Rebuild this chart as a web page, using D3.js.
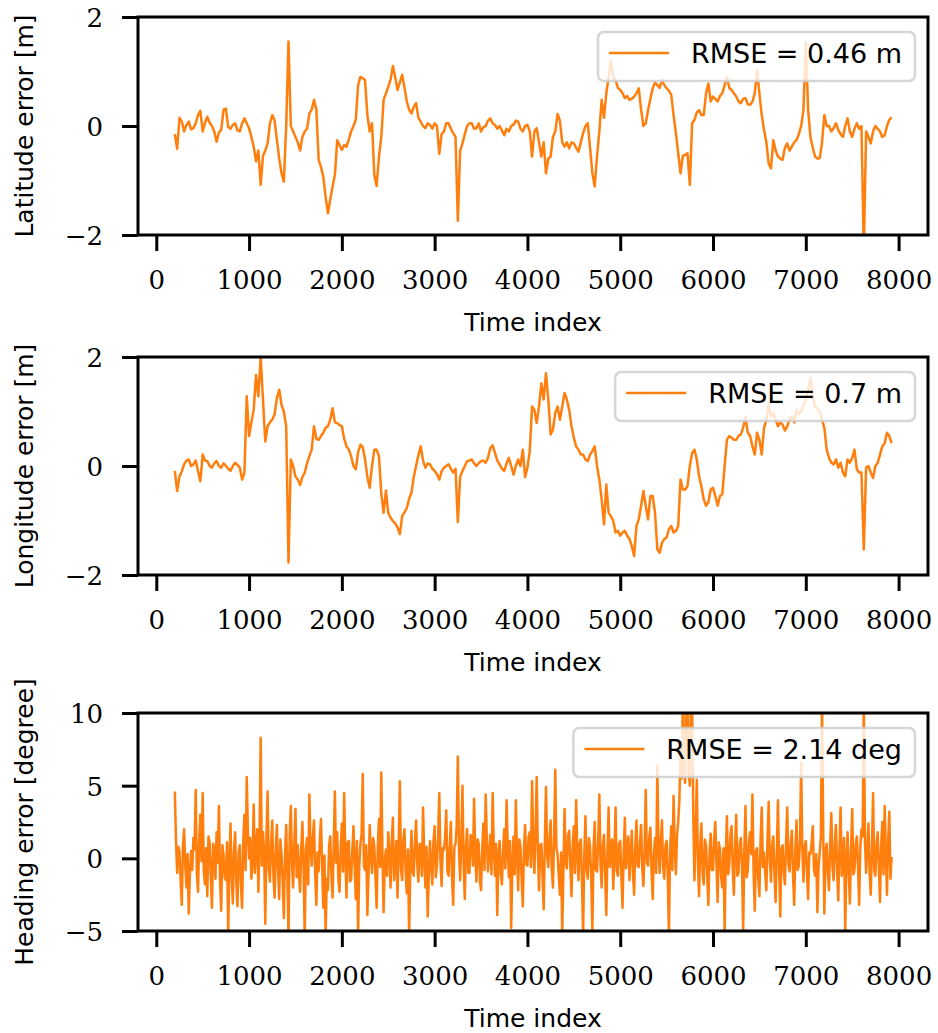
<!DOCTYPE html>
<html>
<head>
<meta charset="utf-8">
<script src="https://cdn.jsdelivr.net/npm/d3@7"></script>
<style>
  body { margin: 0; background: #fff; }
  .tick text { font-family: "DejaVu Serif", serif; font-size: 26px; fill: #000; }
  .lab { font-family: "DejaVu Sans", sans-serif; font-size: 25px; fill: #000; }
  .leg { font-family: "DejaVu Sans", sans-serif; font-size: 27px; fill: #000; }
</style>
</head>
<body>
<svg id="fig" width="938" height="1033"></svg>
<script>
// ---- data ----
// position errors sampled every 25 steps, 200 .. 7925
let posT = d3.range(200, 7926, 25);
let latV = [
  -0.15,-0.42,0.15,0.08,-0.1,0.02,0.08,-0.06,-0.04,0.05,0.2,0.28,-0.1,0.05,0.17,0.06,0,-0.1,-0.29,-0.12,
  -0.07,0.3,0.32,-0.02,-0.05,0.02,0.05,-0.08,-0.1,0.05,0.14,0.05,-0.04,-0.2,-0.38,-0.65,-0.45,-1.08,-0.55,-0.45,
  -0.32,0.05,0.2,0.1,-0.26,-0.6,-0.87,-1.02,0,1.55,0,-0.1,-0.2,-0.3,-0.45,-0.2,-0.1,-0.05,0.23,0.3,
  0.48,0.3,-0.62,-0.75,-0.93,-1.3,-1.6,-1.35,-1.11,-0.9,-0.26,-0.35,-0.44,-0.35,-0.38,-0.25,-0.1,0,0.11,0.75,
  0.9,0.88,0.84,0.2,-0.1,0.05,-0.9,-1.1,-0.56,-0.2,0.48,0.6,0.72,0.85,1.1,0.9,0.66,0.8,0.94,0.7,
  0.45,0.3,0.23,0.35,0.42,0.15,0.08,0,-0.04,0.05,0.02,-0.05,0.05,0,-0.51,-0.15,-0.1,0.05,0.05,-0.05,
  -0.13,-0.2,-1.74,-0.45,-0.32,-0.15,0,0.05,0.05,-0.05,-0.04,0.05,-0.1,-0.02,0,0.1,0.14,0.05,0.02,-0.05,
  0,-0.08,-0.17,-0.05,-0.1,0,0.02,0.1,0.08,-0.05,-0.1,0,0.02,-0.1,-0.56,-0.1,-0.04,-0.3,-0.56,-0.3,
  -0.87,-0.6,-0.56,-0.2,-0.1,0.22,0.1,-0.3,-0.38,-0.3,-0.41,-0.3,-0.32,-0.4,-0.47,-0.3,-0.13,0,0.05,-0.4,
  -0.87,-1.11,-0.56,-0.1,0.48,0.15,0.6,0.9,1.21,0.9,0.84,0.7,0.66,0.6,0.51,0.55,0.48,0.5,0.54,0.6,
  0.69,0.3,0,0.05,0.29,0.5,0.69,0.8,0.75,0.7,0.85,0.75,0.69,0.65,0.57,0.2,-0.13,-0.5,-0.87,-0.55,
  -0.53,-0.5,-1.08,0.05,0.11,0.25,0.29,0.2,0.2,0.6,0.78,0.45,0.54,0.5,0.45,0.55,0.6,0.75,0.9,0.7,
  0.66,0.6,0.54,0.45,0.42,0.5,0.51,0.4,0.39,0.45,0.6,1.03,0.6,0.2,-0.07,-0.3,-0.69,-0.78,-0.26,-0.45,
  -0.56,-0.6,-0.62,-0.4,-0.32,-0.45,-0.38,-0.3,-0.26,-0.15,0,0.3,1.53,0.3,-0.2,-0.4,-0.56,-0.6,-0.59,-0.3,
  0.2,0,0,-0.1,-0.04,0.05,-0.07,-0.15,-0.2,0,0.14,-0.1,-0.2,-0.05,0.05,-0.05,0,-2.3,-0.1,-0.2,
  -0.32,-0.1,0,-0.05,-0.1,-0.2,-0.17,0,0.11,0.16];
let lonV = [
  -0.09,-0.46,-0.19,-0.1,0.03,0.1,0.12,0,0.03,0.1,-0.09,-0.28,0.21,0.1,0.09,0,-0.03,0.05,0.09,0,
  -0.03,0.05,0,-0.05,-0.09,0,0.06,0.02,-0.03,-0.25,-0.12,1.28,0.55,0.8,1.03,1.67,1.28,2.0,1.22,0.45,
  0.73,0.8,0.85,0.95,1.25,1.4,1.12,1.0,0.73,-1.77,0.12,0,-0.19,-0.25,-0.35,-0.2,-0.12,0.05,0.18,0.3,
  0.73,0.5,0.48,0.55,0.61,0.7,0.73,0.85,1.06,0.8,0.79,0.75,0.73,0.5,0.36,0.3,0.18,0,-0.06,0.25,
  0.39,0.35,0.12,-0.2,-0.4,0,0.3,0.3,0.18,-0.5,-0.86,-0.45,-0.86,-0.95,-1.01,-1.05,-1.13,-1.25,-0.92,-0.85,
  -0.77,-0.6,-0.49,-0.2,0,0.2,0.36,0.1,-0.03,0.05,0.03,-0.05,-0.09,-0.15,-0.25,-0.1,-0.03,0,0.03,-0.05,
  -0.12,-0.05,-1.03,-0.2,-0.09,0,0.09,0.1,0.12,0.05,0,0.05,0.09,0.1,0.06,0.15,0.33,0.38,0.24,0.1,
  0.03,-0.05,-0.09,0.05,0.15,0,-0.16,0,0.12,0,0.3,-0.2,-0.03,0.27,1.09,1.03,0.79,1.09,1.52,1.22,
  1.7,1.22,0.58,0.67,0.97,1.09,0.85,1.09,1.34,1.22,1.03,0.73,0.52,0.36,0.3,0.21,0.21,0.12,0.09,0.21,
  0.27,0.36,0,-0.25,-0.61,-1.07,-0.34,-0.86,-0.92,-1.01,-1.22,-1.19,-1.28,-1.22,-1.19,-1.28,-1.34,-1.47,-1.65,-1.1,
  -0.98,-0.73,-0.46,-0.73,-0.98,-0.55,-0.55,-0.86,-1.53,-1.59,-1.41,-1.34,-1.31,-1.16,-1.1,-1.22,-1.19,-1.1,-0.25,-0.43,
  -0.43,-0.37,0,0.24,0.3,0.12,-0.19,-0.37,-0.61,-0.73,-0.67,-0.43,-0.4,-0.55,-0.73,-0.55,-0.52,0,0.48,0.55,
  0.52,0.48,0.48,0.55,0.58,0.7,0.91,0.61,0.55,0.36,0.21,0.61,0.48,0.21,0.7,0.85,1.13,0.91,0.97,0.85,
  0.73,0.8,0.76,0.65,0.73,0.85,0.91,0.8,1.03,0.95,1.0,1.1,1.22,1.4,1.61,1.3,1.09,1.05,1.0,0.85,
  0.7,0.3,0.15,0.06,0.03,0.12,-0.03,0.06,-0.12,-0.19,0.12,0.06,0.15,0.3,-0.06,-0.12,-0.12,-1.53,-0.03,0,
  -0.12,-0.22,0,0.06,0.21,0.36,0.42,0.61,0.55,0.42];

// heading error sampled every 12.5 steps, 200 .. 7925
let headT = d3.range(200, 7925.1, 12.5);
let headV = [
  4.6,1.2,-1.0,0.8,0.5,-1.5,-3.2,0.9,2.0,-0.5,-2.0,0.3,-3.8,-1.0,0.5,-0.8,1.4,0.6,4.7,-1.1,-2.3,1.3,3.0,-0.2,4.5,-0.9,-1.8,0.7,-2.6,1.5,1.1,-1.2,-3.4,1.0,0.6,-1.4,1.8,-0.3,3.6,-1.6,
  -3.6,0.9,0.2,-1.3,-1.5,1.1,-5.2,-0.6,2.4,-1.2,-3.1,0.5,1.8,-1.7,-3.3,0.4,0.9,-1.9,-3.4,1.2,3.0,-0.8,5.6,1.9,0.0,1.4,-1.4,-0.2,3.7,-1.0,0.9,2.0,-2.3,1.1,8.3,-0.5,1.8,0.3,-4.5,1.6,
  4.6,-0.8,-1.6,1.0,2.6,-1.2,-2.7,0.7,2.3,-0.9,-2.8,1.3,0.2,-1.5,-4.1,0.2,2.3,-1.0,-5.3,1.6,3.6,-0.4,-2.0,1.1,3.4,-1.3,0.9,-1.0,-2.3,0.8,2.5,-0.7,-5.4,0.6,1.4,-1.8,4.4,0.9,-0.5,1.4,
  2.6,-1.1,-3.2,0.4,-0.9,1.3,2.7,-0.6,-3.4,0.2,-5.3,-1.4,-2.2,0.9,1.5,-1.2,-2.7,1.0,4.6,-0.3,1.8,-1.5,-2.3,0.7,2.4,-0.9,4.5,0.2,-2.7,1.1,1.2,-1.6,-1.5,0.5,2.2,-0.4,-2.8,1.2,-5.2,-0.6,
  1.0,1.7,5.8,-0.5,-0.8,0.9,-3.9,-1.1,2.3,0.3,-1.0,1.4,0.8,-1.3,-3.4,0.8,2.7,-0.6,5.9,0.4,-3.7,-0.2,0.6,-1.2,1.8,0.5,-2.0,1.0,2.8,-1.5,-0.7,1.2,-2.7,0.9,5.3,-0.8,-1.5,1.3,2.0,-1.0,
  -2.4,0.6,-5.3,-0.7,1.9,-0.9,-1.2,1.1,2.6,-0.4,-1.6,1.0,0.9,-1.2,3.5,0.2,-2.0,0.8,-4.0,-1.1,1.2,-0.5,-1.8,1.2,2.2,-1.3,-0.4,1.5,4.5,-0.2,-1.9,0.7,0.6,1.4,3.3,-0.9,-1.2,0.9,2.5,-1.4,
  -3.2,0.8,1.0,2.2,7.0,0.5,-1.5,1.4,5.0,-0.3,-2.8,0.9,2.0,-1.0,-1.0,1.6,1.5,-0.5,4.1,0.3,-1.6,1.3,1.0,-1.5,-2.2,0.6,2.4,-0.8,4.4,1.2,-0.9,0.4,1.6,-1.1,4.5,0.8,-1.2,1.0,-3.9,0.2,
  1.2,-1.0,-1.8,0.5,2.0,-0.7,4.0,0.9,-1.3,1.2,-4.8,-0.6,1.5,-1.1,4.0,0.3,-2.2,1.3,0.8,-1.4,-3.3,0.6,2.3,-0.4,-0.5,1.5,1.8,-0.6,5.3,1.0,-1.0,2.0,5.6,0.4,-2.2,0.9,1.0,-1.2,-3.5,1.1,
  4.9,0.2,-0.6,1.3,2.6,-0.8,-2.0,1.5,6.1,0.7,0.3,-1.2,-2.5,0.4,-5.1,-0.9,3.4,-0.3,-0.7,1.6,1.9,-0.5,-2.6,0.8,2.2,-1.0,4.0,0.6,-1.5,1.0,1.3,-1.5,-5.2,0.1,2.9,-0.7,-1.4,1.4,0.8,-1.3,
  -5.0,0.6,2.5,-0.8,-0.9,1.2,4.4,-0.4,-2.0,0.9,1.6,-1.1,-3.9,0.5,3.5,-0.6,0.4,1.3,-2.1,0.2,3.5,-0.9,-1.2,1.0,1.2,-1.2,-3.4,0.4,2.8,-0.7,0.5,1.5,-1.5,0.3,1.9,-1.0,-2.5,0.8,2.6,-0.5,
  -0.6,1.1,2.3,-0.7,-1.9,0.6,4.7,-0.3,-0.5,1.4,2.1,-0.9,-2.8,0.3,1.4,-1.0,6.4,0.8,-1.0,1.2,2.6,-0.6,-1.4,0.9,1.2,-1.3,-5.2,0.5,2.2,-0.8,4.3,0.9,-1.1,1.6,2.5,4.0,7.5,5.5,11.0,6.0,
  5.2,11.5,11.0,6.0,5.0,11.2,10.5,3.0,-1.5,1.8,5.4,-0.4,-2.6,0.9,2.4,-1.0,-1.8,1.3,0.9,-1.2,-3.2,0.4,1.7,-0.8,-0.8,1.4,2.5,-0.5,-3.0,1.1,0.6,-1.3,-2.0,0.7,-5.1,0.2,2.9,-1.1,-0.5,1.6,
  2.2,-0.7,-2.5,0.8,3.0,-1.2,-1.0,1.0,1.4,-0.5,-5.0,0.6,3.6,-1.3,-0.8,1.1,1.8,0.3,4.4,-0.9,-3.6,0.5,0.7,-1.4,-2.6,1.2,3.5,-0.6,0.4,-1.0,-2.2,1.3,3.9,-0.2,-1.6,0.9,1.5,-1.1,-3.0,0.4,
  4.0,-0.6,-4.0,0.7,0.9,-1.0,-1.8,1.2,3.5,-0.4,-0.9,1.0,1.9,-1.2,-3.2,0.5,2.6,-0.8,-0.5,1.3,6.6,0.6,-1.6,0.8,1.2,-0.9,-2.8,0.4,0.3,1.0,2.2,-0.7,-1.2,0.3,-3.7,-0.6,0.4,1.5,11.0,2.0,
  -3.8,0.5,1.0,-1.0,-2.2,0.9,3.1,-0.6,-1.5,1.1,2.3,-0.8,-2.9,0.7,3.5,-1.2,0.4,1.4,-5.1,-0.3,1.8,-0.9,-3.1,0.6,3.4,-1.1,-0.8,1.0,1.5,-0.5,-3.2,0.8,2.0,1.5,11.0,1.2,-1.0,0.6,2.4,-0.9,
  -2.5,0.6,4.5,-0.8,-1.2,1.0,1.8,-0.6,-3.0,0.9,2.5,-1.1,3.6,0.4,-2.5,1.2,3.2,-1.4,0.1];

let xTickVals = [0, 1000, 2000, 3000, 4000, 5000, 6000, 7000, 8000];
let yLabels = ['Latitude error [m]', 'Longitude error [m]', 'Heading error [degree]'];
let legendLabels = ['RMSE = 0.46 m', 'RMSE = 0.7 m', 'RMSE = 2.14 deg'];
let yDomains = [[-2, 2], [-2, 2], [-5, 10]];
let yTickVals = [[-2, 0, 2], [-2, 0, 2], [-5, 0, 5, 10]];
let series = [[posT, latV], [posT, lonV], [headT, headV]];

// ---- layout ----
let svg = d3.select('#fig');
let left = 138, right = 928;
let tops = [17, 357, 713];
let plotH = 218;
let lineColor = '#ff7f0e';
let lineW = 2.5;

let xScale = d3.scaleLinear().domain([-197, 8317]).range([left, right]);

series.forEach((s, k) => {
    let top = tops[k], bottom = top + plotH;
    let yScale = d3.scaleLinear().domain(yDomains[k]).range([bottom, top]);

    svg.append('clipPath').attr('id', 'clip' + k)
        .append('rect')
        .attr('x', left).attr('y', top)
        .attr('width', right - left).attr('height', plotH);

    let pts = s[0].map((t, i) => [t, s[1][i]]);
    let line = d3.line().x(d => xScale(d[0])).y(d => yScale(d[1]));
    svg.append('path')
        .datum(pts)
        .attr('clip-path', `url(#clip${k})`)
        .attr('d', line)
        .attr('fill', 'none')
        .attr('stroke', lineColor)
        .attr('stroke-width', lineW)
        .attr('stroke-linejoin', 'round');

    // axes
    let xAxis = d3.axisBottom(xScale).tickValues(xTickVals).tickSize(16).tickSizeOuter(0).tickFormat(d3.format('d'));
    let gx = svg.append('g').attr('transform', `translate(0, ${bottom})`).call(xAxis);
    gx.select('.domain').remove();
    gx.selectAll('.tick line').attr('stroke', '#000').attr('stroke-width', 3);
    gx.selectAll('.tick text').attr('y', 54).attr('dy', 0);

    let yAxis = d3.axisLeft(yScale).tickValues(yTickVals[k]).tickSize(16).tickSizeOuter(0).tickFormat(d3.format('d'));
    let gy = svg.append('g').attr('transform', `translate(${left}, 0)`).call(yAxis);
    gy.select('.domain').remove();
    gy.selectAll('.tick line').attr('stroke', '#000').attr('stroke-width', 3);
    gy.selectAll('.tick text').attr('x', -35).attr('dy', '0.36em');

    // spines
    svg.append('rect')
        .attr('x', left).attr('y', top)
        .attr('width', right - left).attr('height', plotH)
        .attr('fill', 'none').attr('stroke', '#000').attr('stroke-width', 3);

    // labels
    svg.append('text').attr('class', 'lab')
        .attr('x', (left + right) / 2).attr('y', bottom + 96)
        .attr('text-anchor', 'middle')
        .text('Time index');
    svg.append('text').attr('class', 'lab')
        .attr('transform', `translate(33, ${(top + bottom) / 2}) rotate(-90)`)
        .attr('text-anchor', 'middle')
        .text(yLabels[k]);

    // legend
    let legTop = top + 15;
    let legG = svg.append('g');
    let box = legG.append('rect');
    let txt = legG.append('text').attr('class', 'leg')
        .attr('x', 902).attr('y', legTop + 31)
        .attr('text-anchor', 'end')
        .text(legendLabels[k]);
    let tw = txt.node().getComputedTextLength();
    let textStart = 902 - tw;
    legG.append('line')
        .attr('x1', textStart - 82).attr('x2', textStart - 22)
        .attr('y1', legTop + 21).attr('y2', legTop + 21)
        .attr('stroke', lineColor).attr('stroke-width', lineW);
    box.attr('x', textStart - 93).attr('y', legTop)
        .attr('width', 915 - (textStart - 93)).attr('height', 49)
        .attr('rx', 6).attr('ry', 6)
        .attr('fill', '#fff').attr('fill-opacity', 0.8)
        .attr('stroke', '#ccc').attr('stroke-opacity', 0.8).attr('stroke-width', 2.5);
});
</script>
</body>
</html>
